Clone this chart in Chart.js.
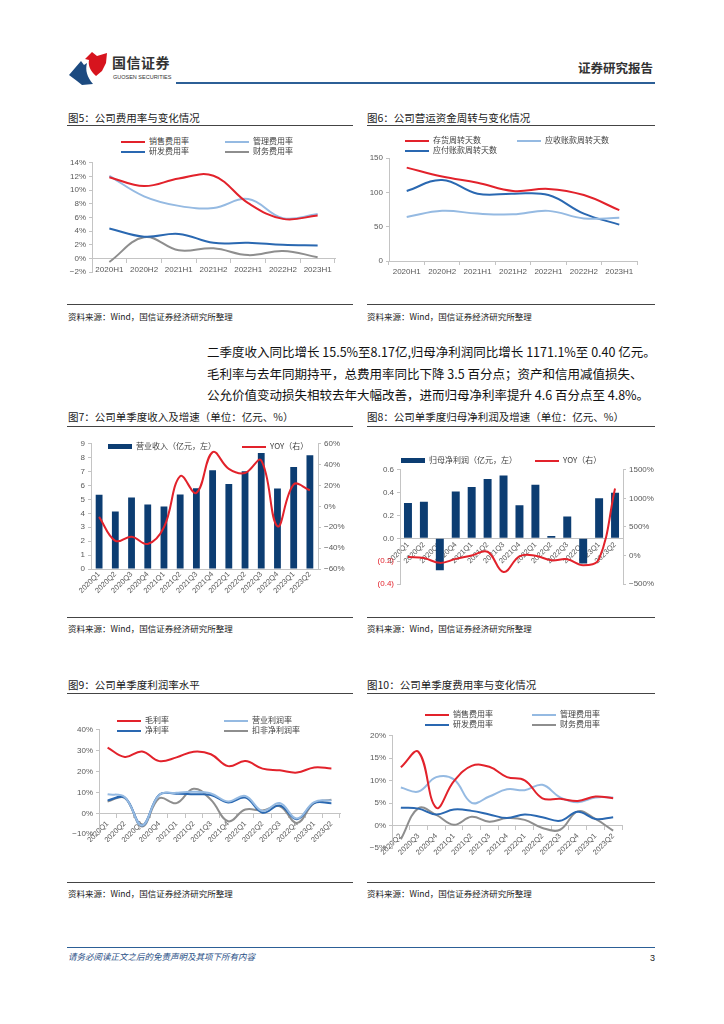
<!DOCTYPE html>
<html lang="zh">

<head>
    <meta charset="UTF-8">
    <title>国信证券 证券研究报告 第3页</title>
    <script src="https://cdn.jsdelivr.net/npm/chart.js@4"></script>
    <style>
        body { margin: 0; background: #fff; font-family: "Noto Sans CJK SC", "Liberation Sans", sans-serif; }
        #page { position: relative; width: 724px; height: 1024px; overflow: hidden; }
        .abs { position: absolute; white-space: nowrap; }
        .title { font-size: 10.5px; line-height: 14px; color: #1a1a1a; }
        .rule { height: 1.3px; background: #444; }
        .src { font-size: 8.5px; line-height: 12px; color: #1a1a1a; }
        .lg { font-size: 8px; line-height: 10px; color: #404040; }
        .sw { display: inline-block; width: 24px; height: 2.5px; vertical-align: middle; margin-right: 4px; }
        .sw.bar { height: 5px; }
        canvas { position: absolute; }
        #para { left: 207px; top: 341px; font-size: 12.5px; line-height: 21.5px; color: #111; }
    </style>
</head>

<body>
    <div id="page">
        <!-- header -->
        <svg class="abs" style="left:68px;top:50px" width="42" height="36" viewBox="0 0 42 36">
            <path d="M1 25 L13 11 L16 15 L19 13 C17 20 19 27 25 34 L14 35 L9 31 Z" fill="#1c4a80" />
            <path d="M17 9 L24 2 L29 6 L39 3 L38 13 L34 21 L28 26 C22 21 20 15 21 10 Z" fill="#d7141e" />
        </svg>
        <div class="abs" style="left:112px;top:53px;font-size:14px;line-height:18px;font-weight:bold;color:#333;letter-spacing:0.5px">国信证券</div>
        <div class="abs" style="left:113px;top:74px;font-size:5.5px;line-height:7px;color:#333;font-family:'Liberation Sans'">GUOSEN SECURITIES</div>
        <div class="abs" style="left:176px;top:82px;width:479px;height:2px;background:#2c5f96"></div>
        <div class="abs" style="left:578px;top:60px;font-size:12.5px;line-height:16px;font-weight:bold;color:#333">证券研究报告</div>

        <!-- fig 5 / 6 -->
        <div class="abs title" style="left:68px;top:111px">图5：公司费用率与变化情况</div>
        <div class="abs rule" style="left:67px;top:125px;width:286px"></div>
        <div class="abs title" style="left:367px;top:111px">图6：公司营运资金周转与变化情况</div>
        <div class="abs rule" style="left:367px;top:125px;width:288px"></div>
        <canvas id="fig5" width="290" height="125" style="left:60px;top:155px"></canvas>
        <canvas id="fig6" width="290" height="125" style="left:365px;top:150px"></canvas>
        <div class="abs rule" style="left:67px;top:304px;width:286px"></div>
        <div class="abs src" style="left:68px;top:310px">资料来源：Wind，国信证券经济研究所整理</div>
        <div class="abs rule" style="left:367px;top:304px;width:288px"></div>
        <div class="abs src" style="left:367px;top:310px">资料来源：Wind，国信证券经济研究所整理</div>

        <div id="para" class="abs">二季度收入同比增长 15.5%至8.17亿,归母净利润同比增长 1171.1%至 0.40 亿元。<br>毛利率与去年同期持平，总费用率同比下降 3.5 百分点；资产和信用减值损失、<br>公允价值变动损失相较去年大幅改善，进而归母净利率提升 4.6 百分点至 4.8%。</div>

        <!-- fig 7 / 8 -->
        <div class="abs title" style="left:68px;top:410px">图7：公司单季度收入及增速（单位：亿元、%）</div>
        <div class="abs rule" style="left:67px;top:426px;width:286px"></div>
        <div class="abs title" style="left:367px;top:410px">图8：公司单季度归母净利润及增速（单位：亿元、%）</div>
        <div class="abs rule" style="left:367px;top:426px;width:288px"></div>
        <canvas id="fig7" width="295" height="170" style="left:60px;top:436px"></canvas>
        <canvas id="fig8" width="295" height="130" style="left:365px;top:462px"></canvas>
        <div class="abs rule" style="left:67px;top:617px;width:286px"></div>
        <div class="abs src" style="left:68px;top:622px">资料来源：Wind，国信证券经济研究所整理</div>
        <div class="abs rule" style="left:367px;top:617px;width:288px"></div>
        <div class="abs src" style="left:367px;top:622px">资料来源：Wind，国信证券经济研究所整理</div>

        <!-- fig 9 / 10 -->
        <div class="abs title" style="left:68px;top:678px">图9：公司单季度利润率水平</div>
        <div class="abs rule" style="left:67px;top:693px;width:286px"></div>
        <div class="abs title" style="left:367px;top:678px">图10：公司单季度费用率与变化情况</div>
        <div class="abs rule" style="left:367px;top:693px;width:288px"></div>
        <canvas id="fig9" width="290" height="120" style="left:60px;top:722px"></canvas>
        <canvas id="fig10" width="290" height="128" style="left:365px;top:728px"></canvas>
        <div class="abs rule" style="left:67px;top:882px;width:286px"></div>
        <div class="abs src" style="left:68px;top:887px">资料来源：Wind，国信证券经济研究所整理</div>
        <div class="abs rule" style="left:367px;top:882px;width:288px"></div>
        <div class="abs src" style="left:367px;top:887px">资料来源：Wind，国信证券经济研究所整理</div>

        <!-- footer -->
        <div class="abs" style="left:67px;top:947px;width:588px;height:1px;background:#2c5f96"></div>
        <div class="abs" style="left:68px;top:950px;font-size:8.5px;line-height:12px;font-style:italic;color:#1f4e85">请务必阅读正文之后的免责声明及其项下所有内容</div>
        <div class="abs" style="left:650px;top:952px;font-size:9px;line-height:12px;color:#222;font-family:'Liberation Sans'">3</div>
    </div>

    <script>
        // ---- data ----
        const halfYears = ['2020H1', '2020H2', '2021H1', '2021H2', '2022H1', '2022H2', '2023H1'];
        const fig5Sales = [11.9, 10.6, 11.7, 12.1, 8.1, 5.8, 6.3];
        const fig5Admin = [12.1, 9.1, 7.7, 7.4, 8.7, 5.9, 6.5];
        const fig5RD = [4.4, 3.2, 3.6, 2.3, 2.3, 2.0, 1.9];
        const fig5Fin = [-0.5, 3.1, 1.2, 1.5, 0.5, 1.1, 0.2];

        const fig6Inventory = [136, 123, 114, 102, 105, 96, 74];
        const fig6Receivable = [64, 73, 69, 68, 73, 62, 63];
        const fig6Payable = [102, 118, 98, 98, 96, 69, 53];

        const quarters = ['2020Q1', '2020Q2', '2020Q3', '2020Q4', '2021Q1', '2021Q2', '2021Q3', '2021Q4',
            '2022Q1', '2022Q2', '2022Q3', '2022Q4', '2023Q1', '2023Q2'];
        const fig7Revenue = [5.33, 4.14, 5.14, 4.64, 4.50, 5.35, 5.80, 7.10, 6.11, 7.03, 8.34, 5.78, 7.34, 8.17];
        const fig7Yoy = [-10, -33, -29, -36, -20, 29, 13, 52, 36, 32, 44, -19, 21, 15.5];

        const fig8Profit = [0.31, 0.32, -0.28, 0.41, 0.45, 0.52, 0.55, 0.29, 0.47, 0.02, 0.19, -0.22, 0.35, 0.40];
        const fig8Yoy = [-28, -45, -130, -60, 0, 65, -290, -15, -5, -85, -65, -170, -60, 1171.1];

        const fig9Gross = [31.5, 27, 29.6, 25, 26.8, 29.5, 28.3, 22.6, 25, 21.4, 20.6, 19.5, 22, 21.5];
        const fig9OpMargin = [9.1, 7.7, -5.8, 8.8, 9.8, 10.3, 9.5, 5.7, 8.3, 1.1, 4.9, -2.5, 5.4, 6.2];
        const fig9Net = [6.2, 7.5, -5.8, 8.9, 9.4, 9.1, 8.8, 5.2, 7.5, 0.3, 3.7, -2.8, 4.9, 4.8];
        const fig9NetExcl = [5.7, 7.4, -6.3, 7.2, 4.9, 11.8, 6.5, -3.8, 1.8, 1.4, 3.4, -4.6, 4.9, 6.5];

        const quarters10 = ['2020Q2', '2020Q3', '2020Q4', '2021Q1', '2021Q2', '2021Q3', '2021Q4',
            '2022Q1', '2022Q2', '2022Q3', '2022Q4', '2023Q1', '2023Q2'];
        const fig10Sales = [13, 16.4, 4.0, 9.9, 13.3, 13.1, 10.8, 10.1, 6.1, 6.0, 5.5, 6.5, 6.1];
        const fig10Admin = [8.5, 7.6, 10.8, 10.3, 5.1, 6.5, 8.1, 7.9, 9.1, 6.3, 5.2, 6.3, 6.3];
        const fig10RD = [4.0, 3.8, 2.5, 3.6, 3.3, 2.5, 1.7, 2.5, 1.9, 1.1, 3.1, 1.5, 1.9];
        const fig10Fin = [-3, 3.9, 2.4, 0.2, 2.0, 0.9, 1.7, 1.3, -0.5, -0.9, 3.2, 1.5, -1.1];

        // ---- styles ----
        const RED = '#e2222b';
        const LIGHT = '#95bae2';
        const BLUE = '#2a68b1';
        const GRAY = '#8e8e8e';
        const NAVY = '#0c3d72';
        const AXIS = '#c4c4c4';
        const TICK = '#595959';
        const tickFont = { family: 'Liberation Sans, Noto Sans CJK SC', size: 8 };
        const rotFont = { family: 'Liberation Sans, Noto Sans CJK SC', size: 7.5 };

        Chart.defaults.font.family = 'Liberation Sans, Noto Sans CJK SC';
        Chart.defaults.animation = false;

        const pct = v => (v < 0 ? '−' + (-v) : v) + '%';

        // legend written as plain html so it can sit exactly like the report
        function legendItem(x, y, color, text, isBar) {
            const d = document.createElement('div');
            d.className = 'abs lg';
            d.style.left = x + 'px';
            d.style.top = (y - 5) + 'px';
            d.innerHTML = '<span class="sw' + (isBar ? ' bar' : '') + '" style="background:' + color + '"></span>' + text;
            document.getElementById('page').appendChild(d);
        }

        function line(label, data, color, extra) {
            return Object.assign({
                type: 'line', label, data, borderColor: color, backgroundColor: color,
                borderWidth: 2, pointRadius: 0, tension: 0.4, fill: false
            }, extra || {});
        }

        function yAxis(min, max, step, width, fmt, position) {
            return {
                position: position || 'left',
                min, max,
                ticks: { stepSize: step, callback: fmt, color: TICK, font: tickFont, padding: 3 },
                grid: { drawOnChartArea: false, drawTicks: true, tickLength: 3, color: AXIS },
                border: { display: true, color: AXIS },
                afterFit: s => { s.width = width; }
            };
        }

        // x axis sitting on the zero line of the left axis
        function xZero(rotated, ticksOn) {
            return {
                position: { y: 0 },
                offset: true,
                z: 1,
                ticks: {
                    color: TICK, font: rotated ? rotFont : tickFont, padding: 2, autoSkip: false,
                    minRotation: rotated ? 45 : 0, maxRotation: rotated ? 45 : 0
                },
                grid: { drawOnChartArea: false, drawTicks: ticksOn, tickLength: 4, offset: true, color: AXIS },
                border: { display: true, color: AXIS },
                afterFit: s => { s.height = 0; }
            };
        }

        function baseOptions(padding, scales) {
            return {
                responsive: false,
                layout: { padding },
                plugins: { legend: { display: false }, tooltip: { enabled: false } },
                scales
            };
        }

        // ---- fig 5 ----
        new Chart(document.getElementById('fig5'), {
            type: 'line',
            data: {
                labels: halfYears,
                datasets: [
                    line('销售费用率', fig5Sales, RED),
                    line('管理费用率', fig5Admin, LIGHT),
                    line('研发费用率', fig5RD, BLUE),
                    line('财务费用率', fig5Fin, GRAY)
                ]
            },
            options: baseOptions({ top: 5, right: 15, bottom: 7, left: 0 }, {
                x: xZero(false, true),
                y: yAxis(-2, 14, 2, 32, pct)
            })
        });
        legendItem(121, 141, RED, '销售费用率');
        legendItem(225, 141, LIGHT, '管理费用率');
        legendItem(121, 151, BLUE, '研发费用率');
        legendItem(225, 151, GRAY, '财务费用率');

        // ---- fig 6 ----
        new Chart(document.getElementById('fig6'), {
            type: 'line',
            data: {
                labels: halfYears,
                datasets: [
                    line('存货周转天数', fig6Inventory, RED),
                    line('应收账款周转天数', fig6Receivable, LIGHT),
                    line('应付账款周转天数', fig6Payable, BLUE)
                ]
            },
            options: baseOptions({ top: 8, right: 18, bottom: 0, left: 0 }, {
                x: {
                    offset: true,
                    ticks: { color: TICK, font: tickFont, padding: 2, maxRotation: 0 },
                    grid: { drawOnChartArea: false, tickLength: 4, offset: true, color: AXIS },
                    border: { display: true, color: AXIS },
                    afterFit: s => { s.height = 14; }
                },
                y: yAxis(0, 150, 50, 24, v => v)
            })
        });
        legendItem(405, 140, RED, '存货周转天数');
        legendItem(517, 140, LIGHT, '应收账款周转天数');
        legendItem(405, 150, BLUE, '应付账款周转天数');

        // ---- fig 7 ----
        new Chart(document.getElementById('fig7'), {
            type: 'bar',
            data: {
                labels: quarters,
                datasets: [
                    line('YOY（右）', fig7Yoy, RED, { yAxisID: 'y1', order: 0 }),
                    {
                        type: 'bar', label: '营业收入（亿元，左）', data: fig7Revenue, yAxisID: 'y',
                        backgroundColor: NAVY, barPercentage: 0.42, categoryPercentage: 1, order: 1
                    }
                ]
            },
            options: baseOptions({ top: 7, right: 0, bottom: 0, left: 0 }, {
                x: {
                    offset: true,
                    ticks: { color: TICK, font: rotFont, padding: 1, autoSkip: false, minRotation: 45, maxRotation: 45 },
                    grid: { drawOnChartArea: false, drawTicks: false, offset: true, color: AXIS },
                    border: { display: true, color: AXIS },
                    afterFit: s => { s.height = 37; }
                },
                y: yAxis(0, 9, 1, 31, v => v),
                y1: yAxis(-60, 60, 20, 37, pct, 'right')
            })
        });
        legendItem(108, 446, NAVY, '营业收入（亿元，左）', true);
        legendItem(242, 446, RED, 'YOY（右）');

        // ---- fig 8 ----
        new Chart(document.getElementById('fig8'), {
            type: 'bar',
            data: {
                labels: quarters,
                datasets: [
                    line('YOY（右）', fig8Yoy, RED, { yAxisID: 'y1', order: 0 }),
                    {
                        type: 'bar', label: '归母净利润（亿元，左）', data: fig8Profit, yAxisID: 'y',
                        backgroundColor: NAVY, barPercentage: 0.5, categoryPercentage: 1, order: 1
                    }
                ]
            },
            options: baseOptions({ top: 5, right: 0, bottom: 8, left: 0 }, {
                x: xZero(true, false),
                y: (() => {
                    const a = yAxis(-0.4, 0.6, 0.2, 35, v => {
                        const r = Math.round(v * 10) / 10;
                        return r < 0 ? '(' + (-r).toFixed(1) + ')' : r.toFixed(1);
                    });
                    a.ticks.color = c => (c.tick.value < -0.01 ? RED : TICK);
                    return a;
                })(),
                y1: yAxis(-500, 1500, 500, 37, v => (v < 0 ? '−' + (-v) : v) + '%', 'right')
            })
        });
        legendItem(401, 460, NAVY, '归母净利润（亿元，左）', true);
        legendItem(535, 460, RED, 'YOY（右）');

        // ---- fig 9 ----
        new Chart(document.getElementById('fig9'), {
            type: 'line',
            data: {
                labels: quarters,
                datasets: [
                    line('毛利率', fig9Gross, RED),
                    line('营业利润率', fig9OpMargin, LIGHT),
                    line('净利率', fig9Net, BLUE),
                    line('扣非净利润率', fig9NetExcl, GRAY)
                ]
            },
            options: baseOptions({ top: 5, right: 10, bottom: 6, left: 0 }, {
                x: xZero(true, true),
                y: yAxis(-10, 40, 10, 39, pct)
            })
        });
        legendItem(117, 720, RED, '毛利率');
        legendItem(224, 720, LIGHT, '营业利润率');
        legendItem(117, 730, BLUE, '净利率');
        legendItem(224, 730, GRAY, '扣非净利润率');

        // ---- fig 10 ----
        new Chart(document.getElementById('fig10'), {
            type: 'line',
            data: {
                labels: quarters10,
                datasets: [
                    line('销售费用率', fig10Sales, RED),
                    line('管理费用率', fig10Admin, LIGHT),
                    line('研发费用率', fig10RD, BLUE),
                    line('财务费用率', fig10Fin, GRAY)
                ]
            },
            options: baseOptions({ top: 5, right: 33, bottom: 7, left: 0 }, {
                x: xZero(true, true),
                y: yAxis(-5, 20, 5, 27, pct)
            })
        });
        legendItem(425, 714, RED, '销售费用率');
        legendItem(532, 714, LIGHT, '管理费用率');
        legendItem(425, 724, BLUE, '研发费用率');
        legendItem(532, 724, GRAY, '财务费用率');
    </script>
</body>

</html>
